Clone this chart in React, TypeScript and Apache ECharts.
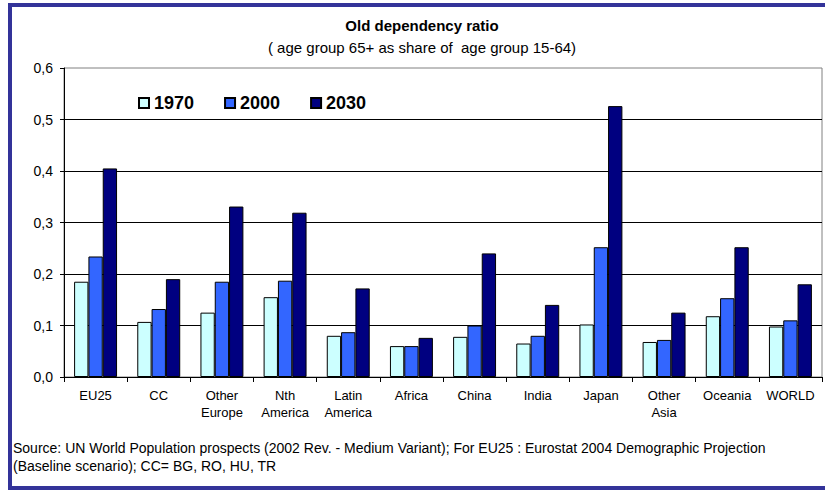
import React, { useEffect, useRef } from 'react';
import * as echarts from 'echarts';

const categories = [
  'EU25', 'CC', 'Other\nEurope', 'Nth\nAmerica', 'Latin\nAmerica', 'Africa',
  'China', 'India', 'Japan', 'Other\nAsia', 'Oceania', 'WORLD',
];
const seriesNames = ['1970', '2000', '2030'];
const values1970 = [0.185, 0.107, 0.125, 0.155, 0.080, 0.060, 0.078, 0.065, 0.102, 0.068, 0.118, 0.098];
const values2000 = [0.234, 0.132, 0.185, 0.187, 0.087, 0.060, 0.100, 0.080, 0.252, 0.072, 0.153, 0.110];
const values2030 = [0.405, 0.190, 0.331, 0.319, 0.172, 0.076, 0.240, 0.140, 0.526, 0.125, 0.252, 0.180];
const seriesColors = ['#CCFFFF', '#3366FF', '#000080'];
const yMin = 0;
const yMax = 0.6;
const yInterval = 0.1;

const titleText = 'Old dependency ratio';
const subtitleText = '( age group 65+ as share of  age group 15-64)';
const sourceLine1 = 'Source: UN World Population prospects (2002 Rev. - Medium Variant); For EU25 : Eurostat 2004 Demographic Projection';
const sourceLine2 = '(Baseline scenario); CC= BG, RO, HU, TR';

const FONT = '"Liberation Sans", Arial, Helvetica, sans-serif';

export default function App() {
  const ref = useRef<HTMLDivElement>(null);

  useEffect(() => {
    if (!ref.current) return;
    const chart = echarts.init(ref.current, null, { renderer: 'svg' });
    const allValues = [values1970, values2000, values2030];
    chart.setOption({
      animation: false,
      backgroundColor: '#ffffff',
      textStyle: { fontFamily: FONT },
      graphic: [
        {
          type: 'rect',
          silent: true,
          z: -10,
          shape: { x: 10, y: 5, width: 840, height: 483 },
          style: { fill: 'transparent', stroke: '#333399', lineWidth: 4 },
        },
        {
          type: 'text',
          x: 422,
          y: 25,
          style: {
            text: titleText,
            fontFamily: FONT,
            fontSize: 15,
            fontWeight: 'bold',
            fill: '#000',
            textAlign: 'center',
            textVerticalAlign: 'middle',
          },
        },
        {
          type: 'text',
          x: 422,
          y: 47,
          style: {
            text: subtitleText,
            fontFamily: FONT,
            fontSize: 15,
            fill: '#000',
            textAlign: 'center',
            textVerticalAlign: 'middle',
          },
        },
        {
          type: 'text',
          x: 13,
          y: 448,
          style: {
            text: sourceLine1,
            fontFamily: FONT,
            fontSize: 14,
            fill: '#000',
            textAlign: 'left',
            textVerticalAlign: 'middle',
          },
        },
        {
          type: 'text',
          x: 13,
          y: 466,
          style: {
            text: sourceLine2,
            fontFamily: FONT,
            fontSize: 14,
            fill: '#000',
            textAlign: 'left',
            textVerticalAlign: 'middle',
          },
        },
      ],
      legend: {
        left: 133,
        top: 89,
        itemWidth: 10,
        itemHeight: 10,
        itemGap: 30,
        icon: 'rect',
        data: seriesNames,
        textStyle: { fontFamily: FONT, fontSize: 18, fontWeight: 'bold', color: '#000' },
      },
      grid: {
        left: 64,
        top: 68,
        right: 3,
        bottom: 113,
        show: true,
        borderColor: '#808080',
        borderWidth: 1,
        containLabel: false,
      },
      xAxis: {
        type: 'category',
        data: categories,
        axisLine: { show: true, lineStyle: { color: '#000', width: 1 } },
        axisTick: { show: true, length: 5, lineStyle: { color: '#000' } },
        axisLabel: {
          color: '#000',
          fontFamily: FONT,
          fontSize: 13,
          lineHeight: 17,
          margin: 10,
          interval: 0,
        },
        splitLine: { show: false },
      },
      yAxis: {
        type: 'value',
        min: yMin,
        max: yMax,
        interval: yInterval,
        axisLine: { show: true, lineStyle: { color: '#000', width: 1 } },
        axisTick: { show: true, length: 4, lineStyle: { color: '#000' } },
        axisLabel: {
          color: '#000',
          fontFamily: FONT,
          fontSize: 14,
          margin: 11,
          formatter: (v: number) => v.toFixed(1).replace('.', ','),
        },
        splitLine: {
          show: true,
          showMaxLine: false,
          lineStyle: { color: '#000', width: 1 },
        },
      },
      series: seriesNames.map((name, i) => ({
        name,
        type: 'bar',
        data: allValues[i],
        barGap: '0%',
        barCategoryGap: '32%',
        itemStyle: { color: seriesColors[i], borderColor: '#000', borderWidth: 1 },
      })),
    });
    return () => chart.dispose();
  }, []);

  return (
    <div
      ref={ref}
      style={{ position: 'absolute', left: 0, top: 0, width: 825, height: 490, background: '#fff' }}
    />
  );
}
